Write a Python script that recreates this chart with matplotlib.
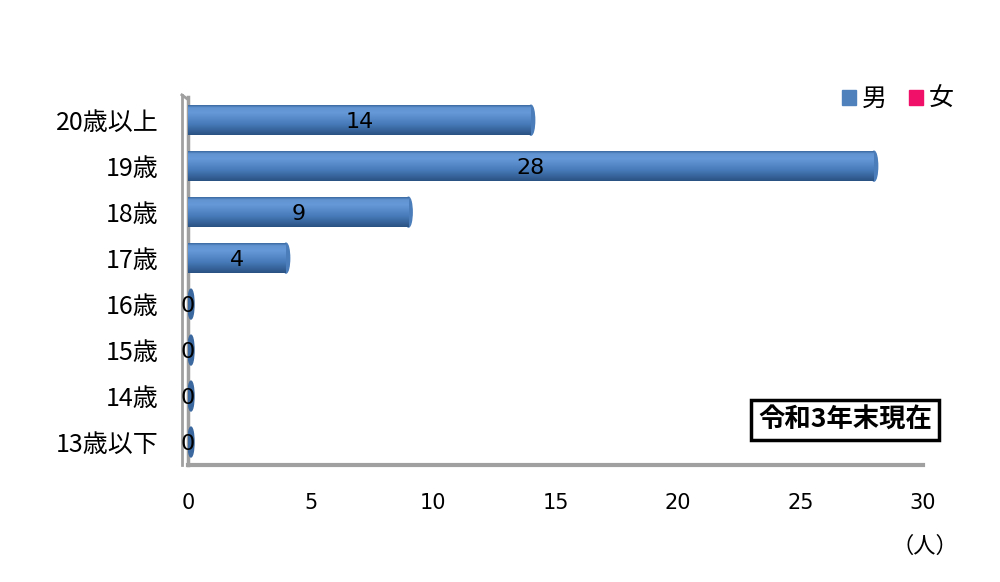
import numpy as np
import matplotlib.pyplot as plt
from matplotlib.colors import LinearSegmentedColormap
from matplotlib.patches import Ellipse, Rectangle
from matplotlib.lines import Line2D

plt.rcParams['font.family'] = ['Noto Sans CJK JP', 'DejaVu Sans']

ages = ['13歳以下', '14歳', '15歳', '16歳', '17歳', '18歳', '19歳', '20歳以上']
male = [0, 0, 0, 0, 4, 9, 28, 14]
female = [0, 0, 0, 0, 0, 0, 0, 0]
xticks = [0, 5, 10, 15, 20, 25, 30]

blue = '#4F81BD'
pink = '#F0106A'
cyl = LinearSegmentedColormap.from_list('cyl', [
    (0.0, '#2A5283'), (0.35, '#4679B7'), (0.75, '#6699D8'),
    (0.92, '#6193D0'), (1.0, '#3C6AA3')])
grad = np.linspace(0, 1, 64).reshape(-1, 1)

fig = plt.figure(figsize=(10, 5.82), dpi=100)
ax = fig.add_axes([0.188, 0.201, 0.735, 0.632])

h = 0.65
for i, v in enumerate(male):
    if v > 0:
        ax.add_patch(Ellipse((v, i), 0.3, h, color='#4A7DBA', zorder=2))
        ax.imshow(grad, cmap=cyl, origin='lower', aspect='auto',
                  extent=[0, v, i - h / 2, i + h / 2], zorder=3)
        ax.text(v / 2, i - 0.05, str(v), ha='center', va='center', fontsize=16,
                family=['DejaVu Sans'], zorder=5)
    else:
        ax.add_patch(Ellipse((0.12, i), 0.25, h, color='#3A689F', zorder=3))
        ax.text(0, i - 0.05, '0', ha='center', va='center', fontsize=16,
                family=['DejaVu Sans'], zorder=5)

ax.set_xlim(0, 30)
ax.set_ylim(-0.5, 7.5)
ax.set_xticks(xticks)
ax.set_xticklabels([str(t) for t in xticks], family=['DejaVu Sans'])
ax.set_yticks(range(len(ages)))
ax.set_yticklabels(ages)
ax.tick_params(axis='y', length=0, pad=21, labelsize=18)
ax.tick_params(axis='x', length=0, pad=20, labelsize=15)

for s in ['top', 'right']:
    ax.spines[s].set_visible(False)
ax.spines['left'].set_color('#A0A0A0')
ax.spines['left'].set_linewidth(2.5)
ax.spines['bottom'].set_color('#A0A0A0')
ax.spines['bottom'].set_linewidth(3)
# wall depth line
ax.add_line(Line2D([-0.25, -0.25], [-0.5, 7.55], color='#A0A0A0', lw=2,
                   clip_on=False))
ax.add_line(Line2D([-0.25, 0], [7.55, 7.45], color='#A0A0A0', lw=2,
                   clip_on=False))

handles = [Rectangle((0, 0), 1, 1, color=blue), Rectangle((0, 0), 1, 1, color=pink)]
fig.legend(handles, ['男', '女'], loc='center', bbox_to_anchor=(0.898, 0.83),
           ncol=2, frameon=False, fontsize=18, handlelength=0.55,
           handleheight=0.55, handletextpad=0.25, columnspacing=0.9)

fig.text(0.845, 0.278, '令和3年末現在', ha='center', va='center', fontsize=19,
         fontweight='bold',
         bbox=dict(boxstyle='square,pad=0.25', fc='white', ec='black', lw=2.5))
fig.text(0.925, 0.062, '（人）', ha='center', va='center', fontsize=16)

fig.savefig('out.png', dpi=100)
